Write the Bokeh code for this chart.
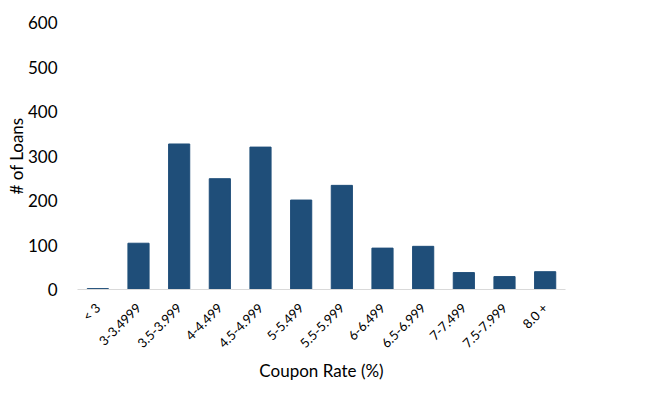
import math
from bokeh.plotting import figure
from bokeh.models import Range1d, SingleIntervalTicker
from bokeh.embed import file_html
from bokeh.resources import INLINE

categories = ["< 3", "3-3.4999", "3.5-3.999", "4-4.499", "4.5-4.999", "5-5.499",
              "5.5-5.999", "6-6.499", "6.5-6.999", "7-7.499", "7.5-7.999", "8.0 +"]
loans = [2, 104, 327, 249, 320, 201, 234, 93, 97, 38, 29, 40]

FONT = "Lato"

p = figure(x_range=categories, y_range=Range1d(0, 600), width=661, height=396,
           output_backend="svg", toolbar_location=None,
           min_border_left=77, min_border_right=96, min_border_top=22, min_border_bottom=107)

p.vbar(x=categories, top=loans, width=0.52, color="#1F4E79")

p.outline_line_color = None
p.xgrid.grid_line_color = None
p.ygrid.grid_line_color = None
p.background_fill_color = "white"
p.border_fill_color = "white"

p.yaxis.ticker = SingleIntervalTicker(interval=100)
p.yaxis.axis_line_color = None
p.yaxis.major_tick_line_color = None
p.yaxis.minor_tick_line_color = None
p.yaxis.major_label_text_font = FONT
p.yaxis.major_label_text_font_size = "17px"
p.yaxis.major_label_text_color = "#000000"
p.yaxis.major_label_standoff = 14
p.yaxis.axis_label = "# of Loans"
p.yaxis.axis_label_text_font = FONT
p.yaxis.axis_label_text_font_size = "17px"
p.yaxis.axis_label_text_font_style = "normal"
p.yaxis.axis_label_text_color = "#000000"
p.yaxis.axis_label_standoff = -2

p.xaxis.axis_line_color = "#D9D9D9"
p.xaxis.axis_line_width = 1
p.xaxis.major_tick_line_color = None
p.xaxis.minor_tick_line_color = None
p.xaxis.major_label_orientation = math.pi / 4
p.xaxis.major_label_text_font = FONT
p.xaxis.major_label_text_font_size = "13px"
p.xaxis.major_label_text_color = "#000000"
p.xaxis.major_label_standoff = 10
p.xaxis.axis_label = "Coupon Rate (%)"
p.xaxis.axis_label_text_font = FONT
p.xaxis.axis_label_text_font_size = "17px"
p.xaxis.axis_label_text_font_style = "normal"
p.xaxis.axis_label_text_color = "#000000"
p.xaxis.axis_label_standoff = 0

open("out.html", "w").write(file_html(p, INLINE))
